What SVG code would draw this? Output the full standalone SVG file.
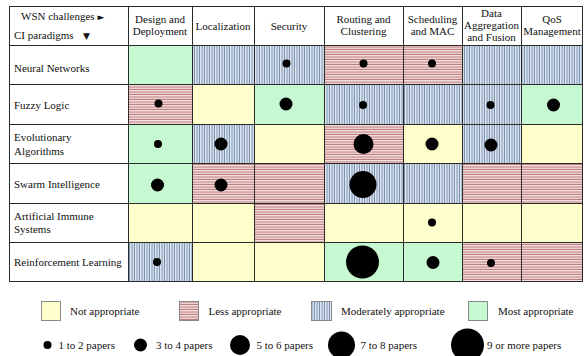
<svg xmlns="http://www.w3.org/2000/svg" width="584" height="356" viewBox="0 0 584 356">
<defs>
<pattern id="pr" width="6" height="2.5" patternUnits="userSpaceOnUse"><rect width="6" height="2.5" fill="#f5e0e0"/><rect y="1.5" width="6" height="1" fill="#b87676"/></pattern>
<pattern id="pb" width="2.5" height="6" patternUnits="userSpaceOnUse"><rect width="2.5" height="6" fill="#e2eaf4"/><rect x="1.5" width="1" height="6" fill="#7189aa"/></pattern>
</defs>
<style>
text{font-family:"Liberation Serif","Times New Roman",serif;font-size:11px;fill:#111}
.c{text-anchor:middle}
.Y{fill:#ffffcc}.R{fill:url(#pr)}.B{fill:url(#pb)}.G{fill:#c6f8d2}
.d{fill:#000}
.grid{stroke:#2a2a2a;stroke-width:1;fill:none}
.sw{stroke:#8a8a8a;stroke-width:1}
.sym{font-family:"DejaVu Sans",sans-serif;font-size:9px}
</style>
<rect width="584" height="356" fill="#fff"/>

<g id="header">
<text x="21" y="20">WSN challenges</text><text class="sym" x="97.5" y="19.5">►</text>
<text x="14" y="39">CI paradigms</text><text class="sym" x="83" y="38.5">▼</text>
<text class="c" x="160" y="22.5">Design and</text><text class="c" x="160" y="34.5">Deployment</text>
<text class="c" x="223" y="29.5">Localization</text>
<text class="c" x="289" y="29.5">Security</text>
<text class="c" x="363.5" y="22.5">Routing and</text><text class="c" x="363.5" y="34.5">Clustering</text>
<text class="c" x="432.5" y="22.5">Scheduling</text><text class="c" x="432.5" y="34.5">and MAC</text>
<text class="c" x="491.5" y="16.5">Data</text><text class="c" x="491.5" y="28.5">Aggregation</text><text class="c" x="491.5" y="40.5">and Fusion</text>
<text class="c" x="552" y="22.5">QoS</text><text class="c" x="552" y="34.5">Management</text>
</g>

<g id="row-neural-networks">
<text x="14" y="72">Neural Networks</text>
<rect class="G" x="128" y="45" width="64" height="39"/>
<rect class="B" x="192" y="45" width="62" height="39"/>
<rect class="B" x="254" y="45" width="70" height="39"/>
<rect class="R" x="324" y="45" width="79" height="39"/>
<rect class="R" x="403" y="45" width="59" height="39"/>
<rect class="B" x="462" y="45" width="59" height="39"/>
<rect class="B" x="521" y="45" width="62" height="39"/>
<circle class="d" cx="286.5" cy="63.5" r="4"/>
<circle class="d" cx="363.5" cy="63.5" r="4"/>
<circle class="d" cx="432" cy="63.5" r="4"/>
</g>

<g id="row-fuzzy-logic">
<text x="14" y="108.5">Fuzzy Logic</text>
<rect class="R" x="128" y="84" width="64" height="40"/>
<rect class="Y" x="192" y="84" width="62" height="40"/>
<rect class="G" x="254" y="84" width="70" height="40"/>
<rect class="B" x="324" y="84" width="79" height="40"/>
<rect class="B" x="403" y="84" width="59" height="40"/>
<rect class="B" x="462" y="84" width="59" height="40"/>
<rect class="G" x="521" y="84" width="62" height="40"/>
<circle class="d" cx="158.5" cy="103.5" r="4"/>
<circle class="d" cx="286" cy="104" r="6.5"/>
<circle class="d" cx="363" cy="105" r="4"/>
<circle class="d" cx="490.5" cy="105" r="4"/>
<circle class="d" cx="553.5" cy="105" r="6.5"/>
</g>

<g id="row-evolutionary-algorithms">
<text x="14" y="140.5">Evolutionary</text><text x="14" y="154.5">Algorithms</text>
<rect class="G" x="128" y="124" width="64" height="39"/>
<rect class="B" x="192" y="124" width="62" height="39"/>
<rect class="Y" x="254" y="124" width="70" height="39"/>
<rect class="R" x="324" y="124" width="79" height="39"/>
<rect class="Y" x="403" y="124" width="59" height="39"/>
<rect class="B" x="462" y="124" width="59" height="39"/>
<rect class="Y" x="521" y="124" width="62" height="39"/>
<circle class="d" cx="158" cy="144" r="4"/>
<circle class="d" cx="221" cy="144" r="6.5"/>
<circle class="d" cx="363.5" cy="144" r="10"/>
<circle class="d" cx="432" cy="144" r="6.5"/>
<circle class="d" cx="491" cy="145" r="6.5"/>
</g>

<g id="row-swarm-intelligence">
<text x="14" y="188">Swarm Intelligence</text>
<rect class="G" x="128" y="163" width="64" height="40"/>
<rect class="R" x="192" y="163" width="62" height="40"/>
<rect class="R" x="254" y="163" width="70" height="40"/>
<rect class="B" x="324" y="163" width="79" height="40"/>
<rect class="B" x="403" y="163" width="59" height="40"/>
<rect class="R" x="462" y="163" width="59" height="40"/>
<rect class="R" x="521" y="163" width="62" height="40"/>
<circle class="d" cx="157.5" cy="185" r="6.5"/>
<circle class="d" cx="221" cy="185" r="6.5"/>
<circle class="d" cx="363" cy="184.5" r="13.5"/>
</g>

<g id="row-artificial-immune-systems">
<text x="14" y="219.5">Artificial Immune</text><text x="14" y="233">Systems</text>
<rect class="Y" x="128" y="203" width="64" height="39"/>
<rect class="Y" x="192" y="203" width="62" height="39"/>
<rect class="R" x="254" y="203" width="70" height="39"/>
<rect class="Y" x="324" y="203" width="79" height="39"/>
<rect class="Y" x="403" y="203" width="59" height="39"/>
<rect class="Y" x="462" y="203" width="59" height="39"/>
<rect class="Y" x="521" y="203" width="62" height="39"/>
<circle class="d" cx="432" cy="222.5" r="4"/>
</g>

<g id="row-reinforcement-learning">
<text x="14" y="266">Reinforcement Learning</text>
<rect class="B" x="128" y="242" width="64" height="40"/>
<rect class="Y" x="192" y="242" width="62" height="40"/>
<rect class="Y" x="254" y="242" width="70" height="40"/>
<rect class="G" x="324" y="242" width="79" height="40"/>
<rect class="G" x="403" y="242" width="59" height="40"/>
<rect class="R" x="462" y="242" width="59" height="40"/>
<rect class="R" x="521" y="242" width="62" height="40"/>
<circle class="d" cx="157" cy="262" r="4"/>
<circle class="d" cx="362.5" cy="262" r="16.5"/>
<circle class="d" cx="433" cy="262.5" r="6.5"/>
<circle class="d" cx="491" cy="263" r="4"/>
</g>

<g id="grid" class="grid">
<rect x="9.5" y="6.5" width="573" height="275"/>
<path d="M9.5 45.5H583M9.5 84.5H583M9.5 124.5H583M9.5 163.5H583M9.5 203.5H583M9.5 242.5H583"/>
<path d="M128.5 6.5V282M192.5 6.5V282M254.5 6.5V282M324.5 6.5V282M403.5 6.5V282M462.5 6.5V282M521.5 6.5V282"/>
</g>

<g id="legend-appropriateness">
<rect class="Y sw" x="41.5" y="301.5" width="19" height="19"/><text x="70" y="315">Not appropriate</text>
<rect class="R sw" x="179.5" y="301.5" width="19" height="19"/><text x="208.5" y="315">Less appropriate</text>
<rect class="B sw" x="311.5" y="301.5" width="20" height="19"/><text x="341" y="315">Moderately appropriate</text>
<rect class="G sw" x="468.5" y="301.5" width="19" height="19"/><text x="498" y="315">Most appropriate</text>
</g>

<g id="legend-papers">
<circle class="d" cx="47.5" cy="345" r="4"/><text x="58.5" y="348.5">1 to 2 papers</text>
<circle class="d" cx="140.5" cy="345" r="6.5"/><text x="156" y="348.5">3 to 4 papers</text>
<circle class="d" cx="240" cy="345" r="10"/><text x="256.5" y="348.5">5 to 6 papers</text>
<circle class="d" cx="341.5" cy="345" r="13.5"/><text x="360.5" y="348.5">7 to 8 papers</text>
<circle class="d" cx="467.5" cy="345" r="16.5"/><text x="487" y="348.5">9 or more papers</text>
</g>
</svg>
